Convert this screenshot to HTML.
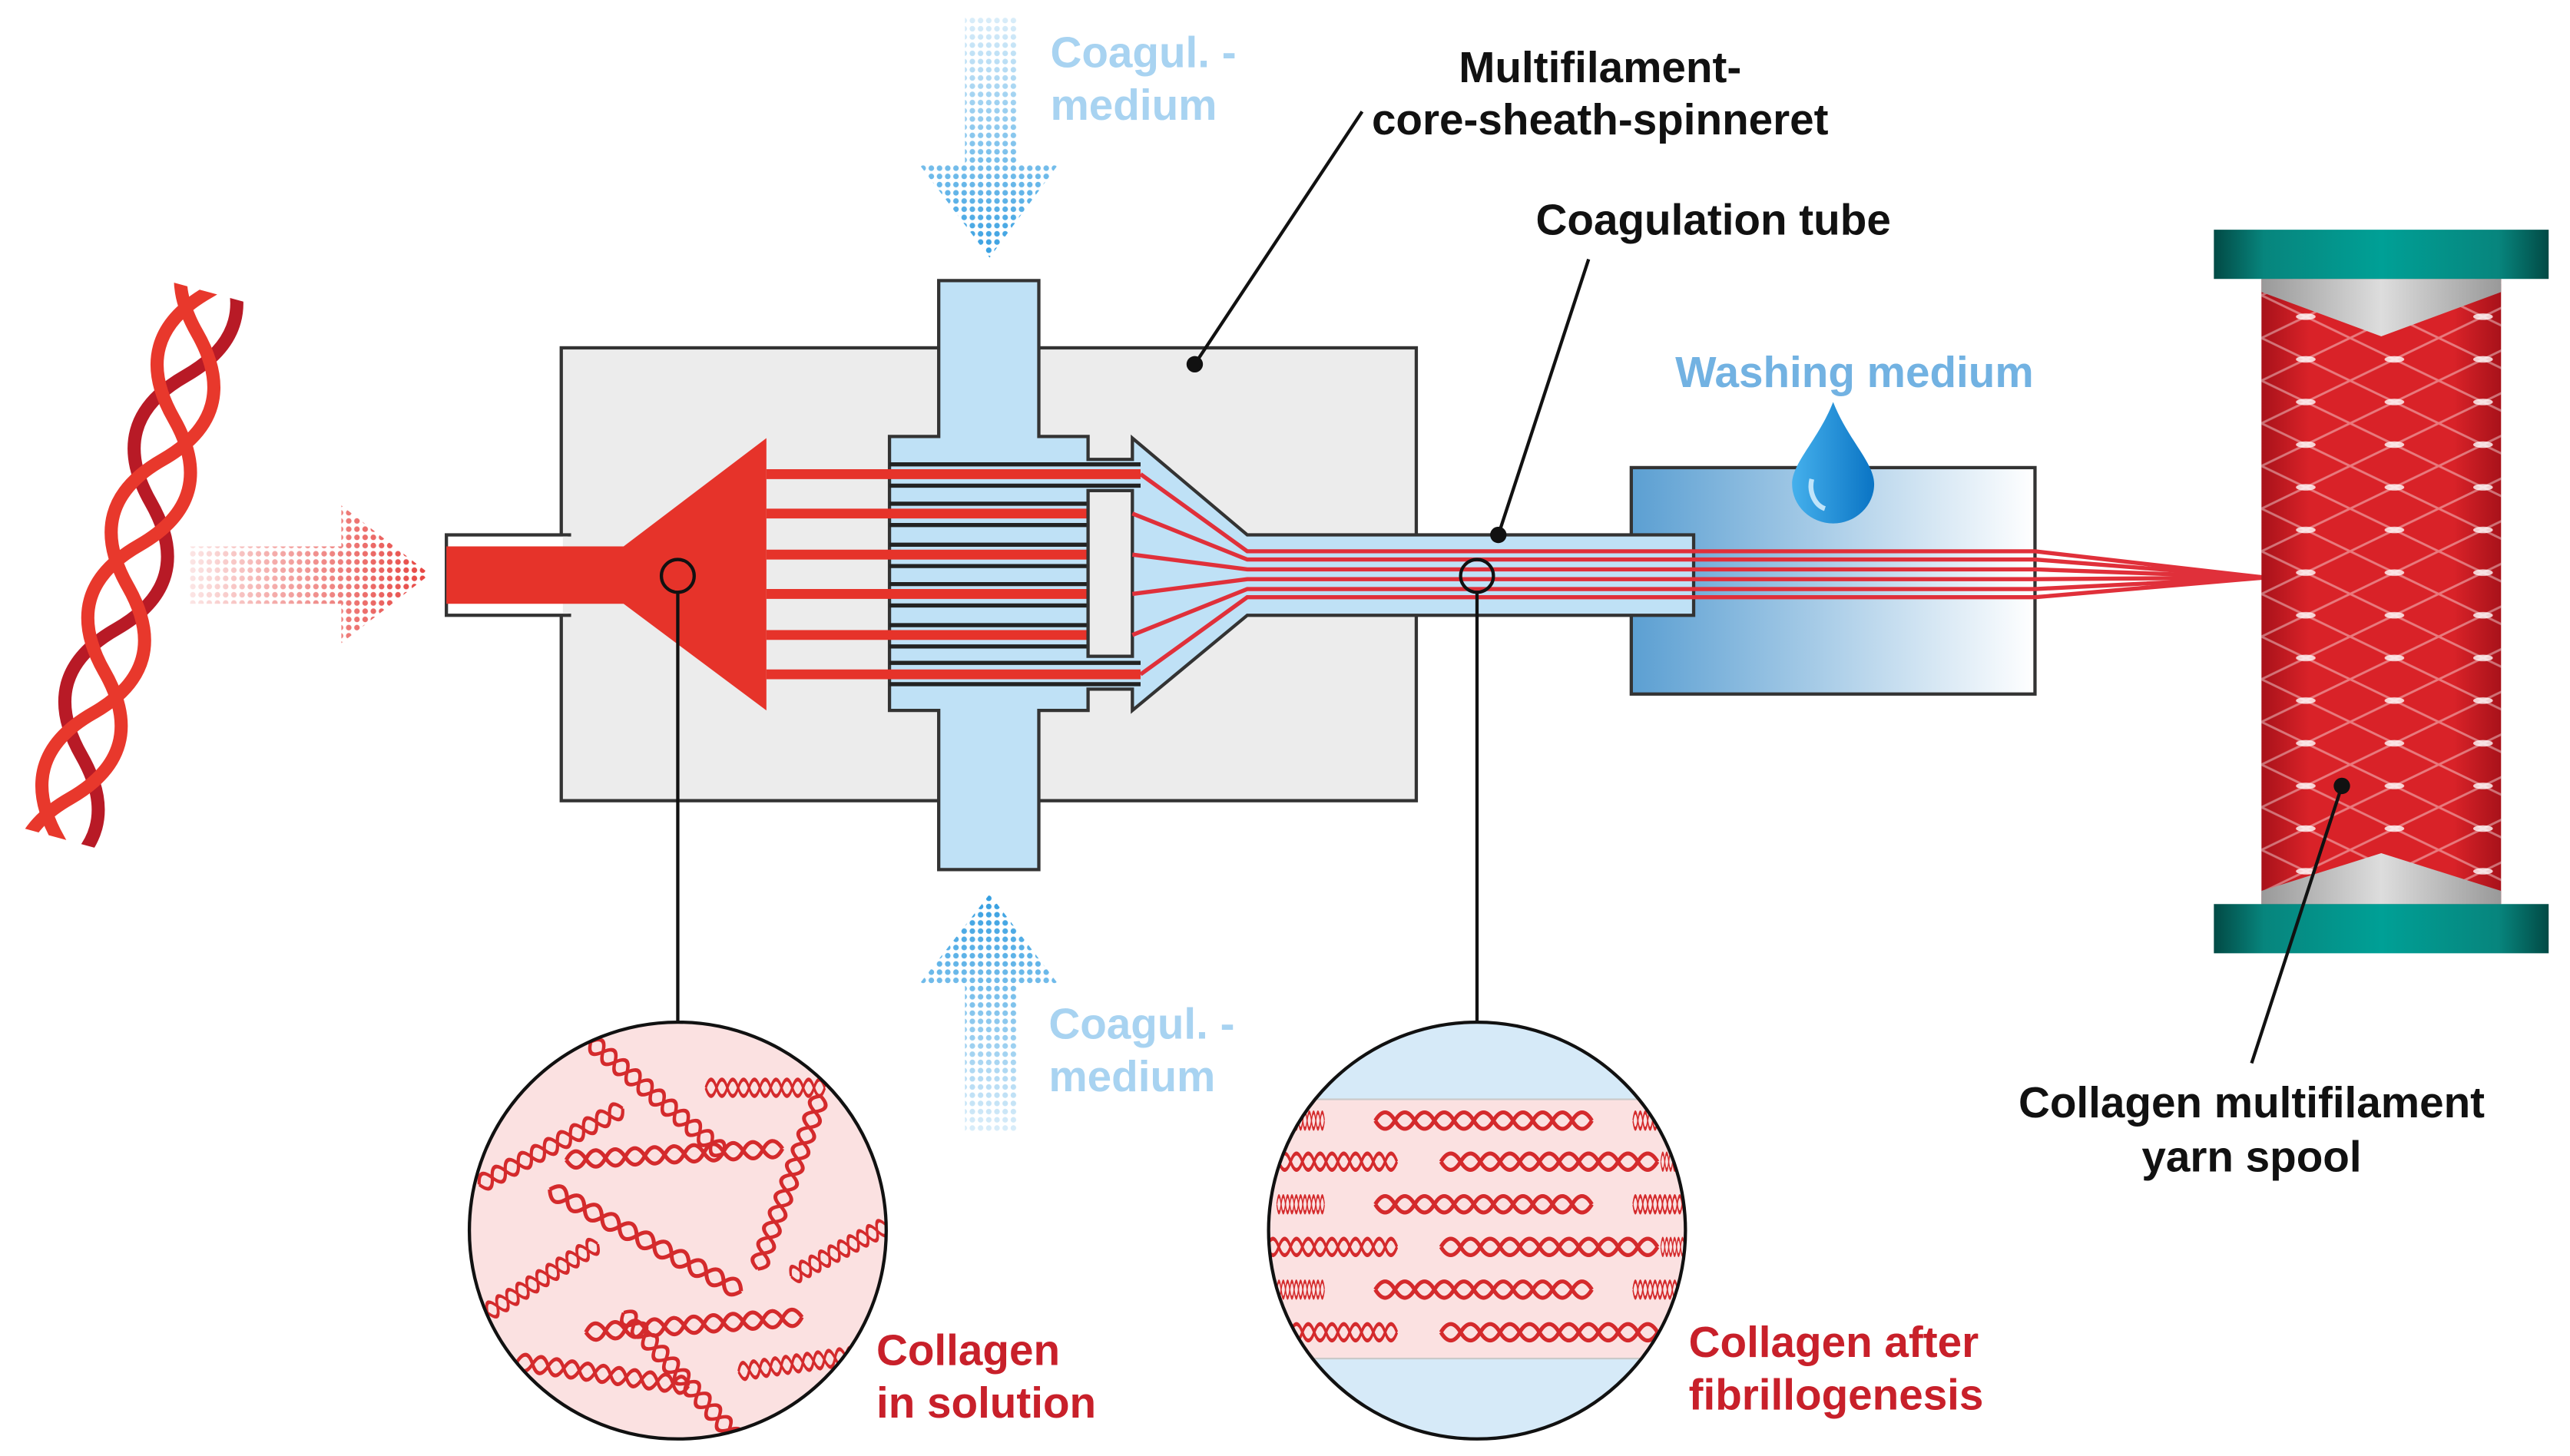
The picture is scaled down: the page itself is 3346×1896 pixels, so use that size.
<!DOCTYPE html>
<html><head><meta charset="utf-8"><style>html,body{margin:0;padding:0;background:#fff}svg{display:block}text{font-family:"Liberation Sans",sans-serif;font-weight:bold;font-size:26.5px}</style></head><body>
<svg width="3346" height="1896" viewBox="0 0 1566 887.4" preserveAspectRatio="none" xmlns="http://www.w3.org/2000/svg">
<defs>
<pattern id="dotsB" width="5" height="5" patternUnits="userSpaceOnUse"><circle cx="2.5" cy="2.5" r="1.7" fill="#2d9be0"/></pattern>
<pattern id="dotsR" width="5" height="5" patternUnits="userSpaceOnUse"><circle cx="2.5" cy="2.5" r="1.7" fill="#e53a36"/></pattern>
<linearGradient id="gR" x1="0" x2="1" y1="0" y2="0"><stop offset="0" stop-color="#fff" stop-opacity="0.1"/><stop offset="1" stop-color="#fff" stop-opacity="1"/></linearGradient>
<linearGradient id="gT" x1="0" x2="0" y1="0" y2="1"><stop offset="0" stop-color="#fff" stop-opacity="0.15"/><stop offset="1" stop-color="#fff" stop-opacity="1"/></linearGradient>
<linearGradient id="gBt" x1="0" x2="0" y1="1" y2="0"><stop offset="0" stop-color="#fff" stop-opacity="0.15"/><stop offset="1" stop-color="#fff" stop-opacity="1"/></linearGradient>
<mask id="mR"><rect x="110" y="300" width="160" height="100" fill="url(#gR)"/></mask>
<mask id="mT"><rect x="555" y="5" width="95" height="160" fill="url(#gT)"/></mask>
<mask id="mB"><rect x="555" y="540" width="95" height="155" fill="url(#gBt)"/></mask>
<linearGradient id="wash" x1="0" x2="1"><stop offset="0" stop-color="#5b9fd2"/><stop offset="1" stop-color="#fff"/></linearGradient>
<linearGradient id="drop" x1="0" x2="1"><stop offset="0" stop-color="#45b0ec"/><stop offset="1" stop-color="#0a74c4"/></linearGradient>
<linearGradient id="teal" x1="0" x2="1"><stop offset="0" stop-color="#024a45"/><stop offset="0.15" stop-color="#07857d"/><stop offset="0.5" stop-color="#00a096"/><stop offset="0.85" stop-color="#07857d"/><stop offset="1" stop-color="#024a45"/></linearGradient>
<linearGradient id="cyl" x1="0" x2="1"><stop offset="0" stop-color="#a8121a"/><stop offset="0.2" stop-color="#d92228"/><stop offset="0.8" stop-color="#d92228"/><stop offset="1" stop-color="#a8121a"/></linearGradient>
<linearGradient id="gray" x1="0" x2="1"><stop offset="0" stop-color="#999"/><stop offset="0.5" stop-color="#ddd"/><stop offset="1" stop-color="#999"/></linearGradient>
<pattern id="wind" width="54" height="26" patternUnits="userSpaceOnUse" x="1378" y="180"><path d="M0,0L54,26M0,26L54,0" stroke="#fff" stroke-opacity="0.4" stroke-width="1.4"/><ellipse cx="27" cy="13" rx="6" ry="2" fill="#fff" fill-opacity="0.8"/></pattern>
<g id="f" fill="none" stroke="#d42a2c" stroke-width="2.4"><path d="M0,0q6,-10 12,0t12,0t12,0t12,0t12,0t12,0t12,0t12,0t12,0t12,0t12,0"/><path d="M0,0q6,10 12,0t12,0t12,0t12,0t12,0t12,0t12,0t12,0t12,0t12,0t12,0"/></g>
<clipPath id="cL"><circle cx="413" cy="750" r="127"/></clipPath>
<clipPath id="cRt"><circle cx="900" cy="750" r="127"/></clipPath>
<clipPath id="hx"><rect x="0" y="-40" width="345" height="80"/></clipPath>
</defs>

<!-- helix -->
<g transform="translate(127,178) rotate(105.3)" clip-path="url(#hx)" fill="none" stroke-width="8" stroke-linecap="round">
<path d="M-240,0q40,-40 80,0t80,0t80,0t80,0t80,0t80,0t80,0t80,0" stroke="#b81a26" transform="translate(53,0)"/>
<path d="M-240,0q40,-40 80,0t80,0t80,0t80,0t80,0t80,0t80,0t80,0" stroke="#e8382c"/>
<path d="M-240,0q40,-40 80,0t80,0t80,0t80,0t80,0t80,0t80,0t80,0" stroke="#e8382c" transform="translate(106,0)"/>
</g>

<!-- dotted arrows -->
<g mask="url(#mR)"><path d="M115,333H208V308L262,350L208,392V368H115Z" fill="url(#dotsR)"/></g>
<g mask="url(#mT)"><path d="M588,10H620V100H645L603,157L560,100H588Z" fill="url(#dotsB)"/></g>
<g mask="url(#mB)"><path d="M588,690H620V600H645L603,545L560,600H588Z" fill="url(#dotsB)"/></g>

<!-- housing -->
<rect x="342" y="212" width="521" height="276" fill="#ececec" stroke="#333" stroke-width="2"/>
<rect x="272" y="326" width="75" height="49" fill="#fff" stroke="#333" stroke-width="2"/>
<rect x="343" y="327" width="8" height="47" fill="#ececec"/>
<path d="M272,333H380L467,267V433L380,368H272Z" fill="#e6332a"/>
<circle cx="413" cy="351" r="10" fill="none" stroke="#111" stroke-width="2"/>

<!-- washing box -->
<rect x="994" y="285" width="246" height="138" fill="url(#wash)" stroke="#333" stroke-width="2"/>

<!-- blue body -->
<path d="M572,171H633V266H663V280H690V267L760,326H1032V375H760L690,433V420H663V433H633V530H572V433H542V266H572Z" fill="#bfe1f6" stroke="#333" stroke-width="2"/>

<!-- channels -->
<g stroke="#222" stroke-width="2.5">
<path d="M542,283H695M542,296H695M542,404H695M542,417H695"/>
<path d="M542,307H663M542,320H663M542,332H663M542,345H663M542,356H663M542,369H663M542,381H663M542,394H663"/>
</g>
<g stroke="#e6332a" stroke-width="6">
<path d="M467,289H695M467,313H663M467,338H663M467,362H663M467,387H663M467,411H695"/>
</g>
<rect x="663" y="299" width="27" height="101" fill="#ececec" stroke="#333" stroke-width="2"/>
<g fill="none" stroke="#e0303a" stroke-width="2.5">
<path d="M695,289L760,336H1240L1380,352"/>
<path d="M690,313L760,341H1240L1380,352"/>
<path d="M690,338L760,347H1240L1380,352"/>
<path d="M690,362L760,353H1240L1380,352"/>
<path d="M690,387L760,359H1240L1380,352"/>
<path d="M695,411L760,364H1240L1380,352"/>
</g>
<circle cx="900" cy="351" r="10" fill="none" stroke="#111" stroke-width="2"/>

<!-- drop -->
<path d="M1117,245C1108,268 1092,282 1092,295A25,24 0 0 0 1142,295C1142,282 1126,268 1117,245Z" fill="url(#drop)"/>
<path d="M1104,292C1102,300 1106,308 1112,310" stroke="#bfe4fa" stroke-width="3" fill="none"/>

<!-- spool -->
<rect x="1378" y="170" width="146" height="381" fill="url(#cyl)"/>
<rect x="1378" y="170" width="146" height="381" fill="url(#wind)"/>
<path d="M1378,170H1524V178L1451,205L1378,178Z" fill="url(#gray)"/>
<path d="M1378,551H1524V543L1451,520L1378,543Z" fill="url(#gray)"/>
<rect x="1349" y="140" width="204" height="30" fill="url(#teal)"/>
<rect x="1349" y="551" width="204" height="30" fill="url(#teal)"/>

<!-- leaders -->
<g stroke="#111" stroke-width="2" fill="none">
<path d="M413,361V622M900,361V622M830,68L728,222M968,158L913,326M1427,479L1372,648"/>
</g>
<circle cx="728" cy="222" r="5" fill="#111"/>
<circle cx="913" cy="326" r="5" fill="#111"/>
<circle cx="1427" cy="479" r="5" fill="#111"/>

<!-- left circle -->
<circle cx="413" cy="750" r="127" fill="#fbe1e1"/>
<g clip-path="url(#cL)">
<use href="#f" transform="translate(360,635) rotate(40) scale(0.8,1)"/>
<use href="#f" transform="translate(430,663) scale(0.55,1)"/>
<use href="#f" transform="translate(292,722) rotate(-28) scale(0.75,1)"/>
<use href="#f" transform="translate(345,707) rotate(-3)"/>
<use href="#f" transform="translate(500,668) rotate(110) scale(0.85,1)"/>
<use href="#f" transform="translate(335,725) rotate(28)"/>
<use href="#f" transform="translate(482,778) rotate(-28) scale(0.55,1)"/>
<use href="#f" transform="translate(297,800) rotate(-32) scale(0.6,1)"/>
<use href="#f" transform="translate(357,812) rotate(-4)"/>
<use href="#f" transform="translate(380,800) rotate(48) scale(0.8,1)"/>
<use href="#f" transform="translate(315,830) rotate(8) scale(0.8,1)"/>
<use href="#f" transform="translate(450,836) rotate(-8) scale(0.55,1)"/>
</g>
<circle cx="413" cy="750" r="127" fill="none" stroke="#111" stroke-width="2"/>

<!-- right circle -->
<circle cx="900" cy="750" r="127" fill="#d6eaf8"/>
<g clip-path="url(#cRt)">
<rect x="770" y="670" width="260" height="158" fill="#fbe1e1" stroke="#c9c9c9" stroke-width="1"/>
<g id="rowA"><use href="#f" transform="translate(778,683) scale(0.22,1)"/><use href="#f" transform="translate(838,683)"/><use href="#f" transform="translate(995,683) scale(0.25,1)"/></g>
<use href="#rowA" transform="translate(0,51)"/><use href="#rowA" transform="translate(0,103)"/>
<g id="rowB"><use href="#f" transform="translate(772,708) scale(0.6,1)"/><use href="#f" transform="translate(878,708)"/><use href="#f" transform="translate(1012,708) scale(0.2,1)"/></g>
<use href="#rowB" transform="translate(0,52)"/><use href="#rowB" transform="translate(0,104)"/>
</g>
<circle cx="900" cy="750" r="127" fill="none" stroke="#111" stroke-width="2"/>

<!-- text -->
<g fill="#a8d3f1"><text x="640" y="41">Coagul. -</text><text x="640" y="73">medium</text><text x="639" y="633">Coagul. -</text><text x="639" y="665">medium</text></g>
<g fill="#111" text-anchor="middle">
<text x="975" y="50">Multifilament-</text><text x="975" y="82">core-sheath-spinneret</text>
<text x="1044" y="143">Coagulation tube</text>
<text x="1372" y="681">Collagen multifilament</text><text x="1372" y="714">yarn spool</text>
</g>
<text x="1130" y="236" fill="#72b2e2" text-anchor="middle">Washing medium</text>
<g fill="#c8202a"><text x="534" y="832">Collagen</text><text x="534" y="864">in solution</text><text x="1029" y="827">Collagen after</text><text x="1029" y="859">fibrillogenesis</text></g>
</svg>
</body></html>
